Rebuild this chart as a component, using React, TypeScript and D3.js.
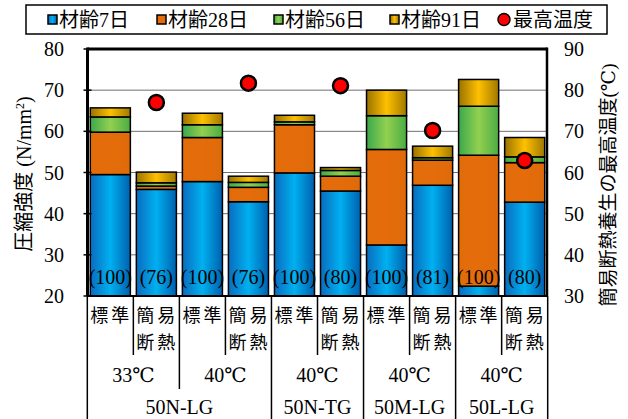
import React, { useEffect, useRef } from 'react';
import * as d3 from 'd3';

// 条件ラベル（各棒）
const conditions = ['標準', '簡易断熱', '標準', '簡易断熱', '標準', '簡易断熱', '標準', '簡易断熱', '標準', '簡易断熱'];
// 材齢ごとの強度増分 (N/mm2)
const age7 = [49.5, 45.9, 47.8, 42.9, 49.9, 45.5, 32.4, 46.9, 22.4, 42.8];
const age28 = [10.3, 0.8, 10.7, 3.5, 11.7, 3.6, 23.2, 6.1, 31.8, 9.6];
const age56 = [3.7, 0.8, 3.1, 1.2, 0.7, 1.4, 8.2, 0.6, 11.9, 1.4];
const age91 = [2.2, 2.6, 2.8, 1.5, 1.6, 0.7, 6.2, 2.8, 6.5, 4.7];
// 簡易断熱養生の最高温度 (℃)
const maxTemp = [null, 77.0, null, 81.7, null, 81.1, null, 70.2, null, 62.9];
const ratioLabels = ['(100)', '(76)', '(100)', '(76)', '(100)', '(80)', '(100)', '(81)', '(100)', '(80)'];
const tempGroups = [
  { label: '33℃', from: 0, to: 1 },
  { label: '40℃', from: 2, to: 3 },
  { label: '40℃', from: 4, to: 5 },
  { label: '40℃', from: 6, to: 7 },
  { label: '40℃', from: 8, to: 9 },
];
const mixGroups = [
  { label: '50N-LG', from: 0, to: 3 },
  { label: '50N-TG', from: 4, to: 5 },
  { label: '50M-LG', from: 6, to: 7 },
  { label: '50L-LG', from: 8, to: 9 },
];
const leftTicks = [20, 30, 40, 50, 60, 70, 80];
const rightTicks = [30, 40, 50, 60, 70, 80, 90];

const keys = ['a7', 'a28', 'a56', 'a91'];
const legendNames = ['材齢7日', '材齢28日', '材齢56日', '材齢91日'];

const serif = "'Liberation Serif', 'Times New Roman', 'DejaVu Serif', 'Noto Sans CJK JP', serif";

const App = () => {
  const svgRef = useRef(null);

  useEffect(() => {
    const svg = d3.select(svgRef.current);
    svg.selectAll('*').remove();

    const left = 87.5, right = 547, top = 49, bottom = 296;

    const defs = svg.append('defs');
    const grad = (id, edgeL, mid, edgeR) => {
      const g = defs.append('linearGradient').attr('id', id)
        .attr('x1', 0).attr('x2', 1).attr('y1', 0).attr('y2', 0);
      g.append('stop').attr('offset', '0%').attr('stop-color', edgeL);
      g.append('stop').attr('offset', '50%').attr('stop-color', mid);
      g.append('stop').attr('offset', '100%').attr('stop-color', edgeR);
    };
    grad('g7', '#0a6cbf', '#00b0f0', '#0060ae');
    grad('g28', '#e36c0a', '#e46c0a', '#e06a0a');
    grad('g56', '#3aa84c', '#92d050', '#4cac44');
    grad('g91', '#9a7200', '#ffc000', '#a07800');
    const fills = ['url(#g7)', 'url(#g28)', 'url(#g56)', 'url(#g91)'];

    const x = d3.scaleBand()
      .domain(d3.range(conditions.length))
      .range([88, 547])
      .paddingInner(0.13)
      .paddingOuter(0.05);
    const half = (x.step() - x.bandwidth()) / 2;
    const edge = i => (i < conditions.length ? x(i) - half : x(i - 1) + x.bandwidth() + half);

    const y = d3.scaleLinear().domain([20, 80]).range([bottom, top]);
    const yR = d3.scaleLinear().domain([30, 90]).range([bottom, top]);

    // legend
    svg.append('rect')
      .attr('x', 26).attr('y', 5).attr('width', 581).attr('height', 29)
      .attr('fill', 'white').attr('stroke', 'black').attr('stroke-width', 1.5);
    const legX = [48, 157, 274, 390];
    legendNames.forEach((n, i) => {
      svg.append('rect')
        .attr('x', legX[i]).attr('y', 15).attr('width', 9).attr('height', 9)
        .attr('fill', fills[i]).attr('stroke', 'black').attr('stroke-width', 1.5);
      svg.append('text')
        .attr('x', legX[i] + 11).attr('y', 27)
        .attr('font-family', serif).attr('font-size', 20)
        .text(n);
    });
    svg.append('circle').attr('cx', 504).attr('cy', 19.5).attr('r', 6)
      .attr('fill', '#ff0000').attr('stroke', 'black').attr('stroke-width', 1.5);
    svg.append('text').attr('x', 513).attr('y', 27)
      .attr('font-family', serif).attr('font-size', 20).text('最高温度');

    // grid
    svg.append('g').selectAll('line')
      .data(leftTicks.slice(1, -1))
      .join('line')
      .attr('x1', left).attr('x2', right)
      .attr('y1', d => y(d)).attr('y2', d => y(d))
      .attr('stroke', '#6f6f6f').attr('stroke-width', 1);

    // stacked bars
    const table = conditions.map((c, i) => ({ a7: age7[i], a28: age28[i], a56: age56[i], a91: age91[i] }));
    const series = d3.stack().keys(keys)(table);
    series.forEach((s, k) => {
      svg.append('g').selectAll('rect')
        .data(s)
        .join('rect')
        .attr('x', (d, i) => x(i))
        .attr('width', x.bandwidth())
        .attr('y', d => y(d[1]))
        .attr('height', d => y(Math.max(d[0], 20)) - y(d[1]))
        .attr('fill', fills[k])
        .attr('stroke', 'black')
        .attr('stroke-width', 1.5);
    });

    // ratio labels
    svg.append('g').selectAll('text')
      .data(ratioLabels)
      .join('text')
      .attr('x', (d, i) => x(i) + x.bandwidth() / 2)
      .attr('y', 284)
      .attr('text-anchor', 'middle')
      .attr('font-family', serif).attr('font-size', 20)
      .text(d => d);

    // max temperature dots
    svg.append('g').selectAll('circle')
      .data(maxTemp.map((t, i) => ({ t, i })).filter(d => d.t != null))
      .join('circle')
      .attr('cx', d => x(d.i) + x.bandwidth() / 2)
      .attr('cy', d => yR(d.t))
      .attr('r', 7.5)
      .attr('fill', '#ff0000')
      .attr('stroke', 'black')
      .attr('stroke-width', 2.5);

    // frame
    svg.append('line').attr('x1', left).attr('x2', right).attr('y1', top).attr('y2', top)
      .attr('stroke', 'black').attr('stroke-width', 3);
    svg.append('line').attr('x1', left).attr('x2', left).attr('y1', top - 1.5).attr('y2', bottom)
      .attr('stroke', 'black').attr('stroke-width', 3);
    svg.append('line').attr('x1', right).attr('x2', right).attr('y1', top - 1.5).attr('y2', bottom)
      .attr('stroke', 'black').attr('stroke-width', 2.5);
    svg.append('line').attr('x1', left).attr('x2', right).attr('y1', bottom).attr('y2', bottom)
      .attr('stroke', 'black').attr('stroke-width', 2);

    // left axis
    const gl = svg.append('g');
    gl.selectAll('line').data(leftTicks).join('line')
      .attr('x1', left - 4).attr('x2', left + 4)
      .attr('y1', d => y(d)).attr('y2', d => y(d))
      .attr('stroke', 'black').attr('stroke-width', 1.5);
    gl.selectAll('text').data(leftTicks).join('text')
      .attr('x', 64).attr('y', d => y(d) + 7)
      .attr('text-anchor', 'end')
      .attr('font-family', serif).attr('font-size', 20)
      .text(d => d);

    // right axis
    svg.append('g').selectAll('text').data(rightTicks).join('text')
      .attr('x', 564).attr('y', d => yR(d) + 7)
      .attr('font-family', serif).attr('font-size', 20)
      .text(d => d);

    // axis titles
    const lt = svg.append('text')
      .attr('transform', 'translate(31,174) rotate(-90)')
      .attr('text-anchor', 'middle')
      .attr('font-family', serif).attr('font-size', 20);
    lt.append('tspan').text('圧縮強度 (N/mm');
    lt.append('tspan').attr('baseline-shift', 'super').attr('font-size', 12).text('2');
    lt.append('tspan').text(')');

    svg.append('text')
      .attr('transform', 'translate(615,185) rotate(-90)')
      .attr('text-anchor', 'middle')
      .attr('font-family', serif).attr('font-size', 19)
      .text('簡易断熱養生の最高温度(℃)');

    // category table below x axis
    const gx = svg.append('g');
    const line = (xx, y2) => gx.append('line')
      .attr('x1', xx).attr('x2', xx).attr('y1', bottom).attr('y2', y2)
      .attr('stroke', 'black').attr('stroke-width', 1.5);
    for (let i = 0; i <= conditions.length; i++) {
      const full = i === 0 || i === conditions.length || mixGroups.some(g => g.from === i);
      const mid = tempGroups.some(g => g.from === i);
      line(edge(i), full ? 419 : mid ? 389 : 355);
    }
    conditions.forEach((c, i) => {
      const cx = x(i) + x.bandwidth() / 2 + 1;
      const rows = c === '標準' ? ['標準'] : ['簡易', '断熱'];
      rows.forEach((r, j) => {
        gx.append('text')
          .attr('x', cx).attr('y', 322 + j * 27)
          .attr('text-anchor', 'middle')
          .attr('letter-spacing', 3)
          .attr('font-family', serif).attr('font-size', 18)
          .text(r);
      });
    });
    tempGroups.forEach(g => {
      gx.append('text')
        .attr('x', (edge(g.from) + edge(g.to + 1)) / 2).attr('y', 382)
        .attr('text-anchor', 'middle')
        .attr('font-family', serif).attr('font-size', 20)
        .text(g.label);
    });
    mixGroups.forEach(g => {
      gx.append('text')
        .attr('x', (edge(g.from) + edge(g.to + 1)) / 2).attr('y', 414)
        .attr('text-anchor', 'middle')
        .attr('font-family', serif).attr('font-size', 20)
        .text(g.label);
    });
  }, []);

  return (
    <svg ref={svgRef} width={628} height={419}
      style={{ position: 'absolute', left: 0, top: 0, background: 'white' }} />
  );
};

export default App;
